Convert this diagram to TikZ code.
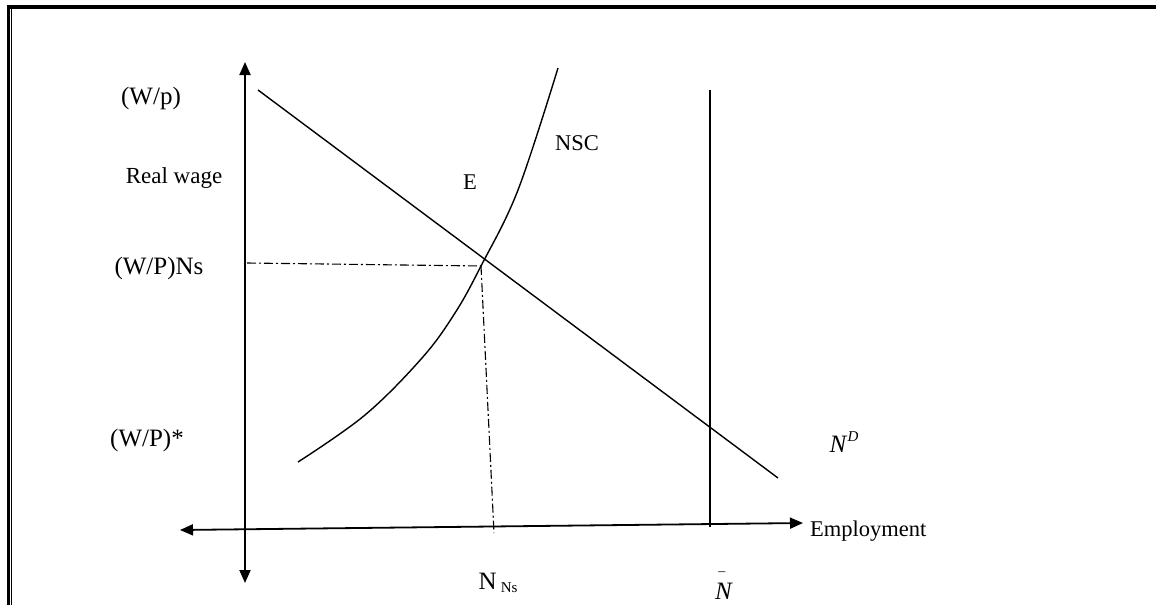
\documentclass[tikz,border=0pt]{standalone}
\usepackage{fontspec}
\setmainfont{Liberation Serif}
\usetikzlibrary{arrows.meta}

\begin{document}
\begin{tikzpicture}[x=1pt,y=-1pt,
    axis/.style={{Triangle[length=13pt,width=11pt]}-{Triangle[length=13pt,width=11pt]}, line width=1.8pt},
    curve/.style={line width=1.4pt},
    guide/.style={line width=1.1pt, dash pattern=on 9pt off 3pt on 2pt off 3pt},
    lbl/.style={font=\fontsize{22.5}{27}\selectfont, inner sep=0pt},
    biglbl/.style={font=\fontsize{25}{29}\selectfont, inner sep=0pt}
  ]
  \useasboundingbox (0,0) rectangle (1156,605);
  % frame
  \draw[line width=4pt] (7,7) -- (1156,7);
  \draw[line width=2.8pt] (8.7,5) -- (8.7,605);
  \draw[line width=1pt] (11.6,9) -- (11.6,605);
  % axes
  \coordinate (ytop) at (245,62);
  \coordinate (ybot) at (245,583);
  \coordinate (xleft) at (180,530);
  \coordinate (xright) at (803,523);
  \draw[axis] (ybot) -- (ytop);
  \draw[axis] (xleft) -- (xright);
  % curves
  \coordinate (E) at (481,266);
  \coordinate (ndtop) at (258,90);
  \coordinate (ndend) at (778,478);
  \coordinate (nbtop) at (710,90);
  \coordinate (nbbot) at (710,527);
  \draw[curve] (ndtop) -- (ndend);
  \draw[curve] (nbtop) -- (nbbot);
  \draw[curve] plot[smooth, tension=0.6] coordinates {(298,462) (365,415) (422,358) (455,313) (E) (518,190) (558,68)};
  % guides
  \coordinate (wns) at (247,263);
  \coordinate (nns) at (494,533);
  \draw[guide] (wns) -- (E);
  \draw[guide] (E) -- (nns);
  % labels
  \node[biglbl] (wp) at (151,98) {(W/p)};
  \node[lbl, font=\fontsize{23}{27}\selectfont] (rw) at (174,178) {Real wage};
  \node[biglbl] (wpns) at (159,268) {(W/P)Ns};
  \node[biglbl] (wpstar) at (147,440) {(W/P)*};
  \node[lbl] (elbl) at (470,182) {E};
  \node[lbl] (nsc) at (577,143) {NSC};
  \node[biglbl] (nd) at (844,442) {\textit{N}\raisebox{0.45em}{\fontsize{15}{17}\selectfont\textit{D}}};
  \node[lbl, anchor=west] (emp) at (810,531) {Employment};
  \node[biglbl] (nnslbl) at (498,583) {N\,{\fontsize{15}{17}\selectfont\raisebox{-0.15em}{Ns}}};
  \node[biglbl] (nbar) at (724,586) {\textit{N}\llap{\raisebox{0.95em}{\fontsize{14}{16}\selectfont\textit{--}}\hspace{0.3em}}};
\end{tikzpicture}
\end{document}
